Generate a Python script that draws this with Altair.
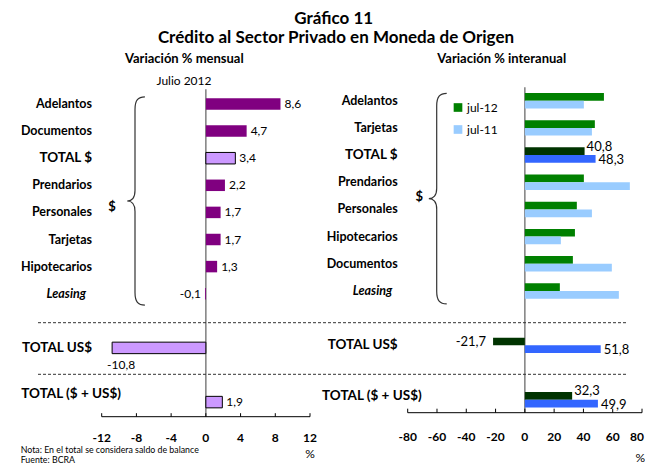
import altair as alt
import pandas as pd

# ---------------- data ----------------
cats_m = ["Adelantos", "Documentos", "TOTAL $", "Prendarios", "Personales",
          "Tarjetas", "Hipotecarios", "Leasing", "TOTAL US$", "TOTAL ($ + US$)"]
vals_m = [8.6, 4.7, 3.4, 2.2, 1.7, 1.7, 1.3, -0.1, -10.8, 1.9]

cats_i = ["Adelantos", "Tarjetas", "TOTAL $", "Prendarios", "Personales",
          "Hipotecarios", "Documentos", "Leasing", "TOTAL US$", "TOTAL ($ + US$)"]
jul12 = [54.0, 47.8, 40.8, 40.3, 35.5, 34.2, 32.8, 23.9, -21.7, 32.3]
jul11 = [40.3, 45.8, 48.3, 71.7, 45.8, 24.6, 59.4, 64.2, 51.8, 49.9]
series = ["jul-12", "jul-11"]
totals = ["TOTAL $", "TOTAL US$", "TOTAL ($ + US$)"]

ticks_m = [-12, -8, -4, 0, 4, 8, 12]
ticks_i = [-80, -60, -40, -20, 0, 20, 40, 60, 80]

title1 = "Gráfico 11"
title2 = "Crédito al Sector Privado en Moneda de Origen"
sub_m = "Variación % mensual"
sub_i = "Variación % interanual"
period = "Julio 2012"
note = "Nota: En el total se considera saldo de balance"
source = "Fuente: BCRA"

# ---------------- tables ----------------
FONT = "Lato"
gap1, gap2 = " ", "  "
order_m = cats_m[:8] + [gap1, cats_m[8], gap2, cats_m[9]]
order_i = cats_i[:8] + [gap1, cats_i[8], gap2, cats_i[9]]

df_m = pd.DataFrame({"cat": cats_m, "v": vals_m})
df_i = pd.DataFrame({"cat": cats_i * 2,
                     "serie": [series[0]] * len(cats_i) + [series[1]] * len(cats_i),
                     "v": jul12 + jul11})
tk_m = pd.DataFrame({"t": ticks_m})
tk_i = pd.DataFrame({"t": ticks_i})
ends_m = pd.DataFrame({"a": [ticks_m[0]], "b": [ticks_m[-1]]})
ends_i = pd.DataFrame({"a": [ticks_i[0]], "b": [ticks_i[-1]]})
zero = pd.DataFrame({"t": [0]})
one = pd.DataFrame({"k": [0]})

lab_expr = "replace(replace(format(datum.v, '.1f'), '.', ','), '\u2212', '-')"
tick_expr = "replace(format(datum.t, 'd'), '\u2212', '-')"

is_tot = alt.FieldOneOfPredicate(field="cat", oneOf=totals)

# ---------------- scales ----------------
def xm(f):
    return alt.X(f"{f}:Q", scale=alt.Scale(domain=[-12, 12], range=[93.7, 302.0], nice=False), axis=None)

def xi(f):
    return alt.X(f"{f}:Q", scale=alt.Scale(domain=[-80, 80], range=[399.7, 634.0], nice=False), axis=None)

ym = alt.Y("cat:N", scale=alt.Scale(domain=order_m, range=[82.45, 407.65], paddingInner=0, paddingOuter=0), axis=None)
yi = alt.Y("cat:N", scale=alt.Scale(domain=order_i, range=[79.1, 405.3], paddingInner=0, paddingOuter=0), axis=None)

# brace drawn as a custom symbol path
BRACE = ("M 0.095 -1 C 0.03 -1 0 -0.97 0 -0.88 L 0 -0.1 C 0 -0.03 -0.03 0 -0.075 0 "
         "C -0.03 0 0 0.03 0 0.1 L 0 0.88 C 0 0.97 0.03 1 0.095 1")

def brace(x, y, size):
    return alt.Chart(one).mark_point(shape=BRACE, size=size, filled=False, opacity=1,
                                     stroke="#333333", strokeWidth=1.2).encode(
        x=alt.value(x), y=alt.value(y))

def txt(text, x, y, size=12, weight="normal", style="normal", align="center"):
    return alt.Chart(one).mark_text(font=FONT, fontSize=size, fontWeight=weight, fontStyle=style,
                                    align=align, baseline="middle", color="black").encode(
        x=alt.value(x), y=alt.value(y), text=alt.value(text))

LBL = 12.5      # category label size
LBL_TOT = 13.5  # upper-case total labels

def cat_labels(base, y, cats, x_right, x_leas, x_tot, dy_tot):
    plain = [c for c in cats if c not in totals and c != "Leasing"]
    tots = [c for c in totals if c != "TOTAL ($ + US$)"]
    a = base.transform_filter(alt.FieldOneOfPredicate(field="cat", oneOf=plain)).mark_text(
        font=FONT, fontSize=LBL, fontWeight="bold", align="right", baseline="middle").encode(
        x=alt.value(x_right), y=y, text="cat:N")
    b = base.transform_filter(alt.FieldOneOfPredicate(field="cat", oneOf=tots)).mark_text(
        font=FONT, fontSize=LBL_TOT, fontWeight="bold", align="right", baseline="middle").encode(
        x=alt.value(x_right), y=y, text="cat:N")
    c = base.transform_filter(alt.datum.cat == "Leasing").mark_text(
        font=FONT, fontSize=LBL, fontWeight="bold", fontStyle="italic", align="right", baseline="middle").encode(
        x=alt.value(x_leas), y=y, text="cat:N")
    d = base.transform_filter(alt.datum.cat == "TOTAL ($ + US$)").mark_text(
        font=FONT, fontSize=LBL_TOT, fontWeight="bold", align="right", baseline="middle", dy=dy_tot).encode(
        x=alt.value(x_tot), y=y, text="cat:N")
    return [a, b, c, d]

# ---------------- left panel ----------------
base_m = alt.Chart(df_m)
bars_m = base_m.mark_bar(size=11.5, stroke="black").encode(
    x=xm("v"), x2=alt.datum(0), y=ym,
    color=alt.condition(is_tot, alt.value("#CC99FF"), alt.value("#800080")),
    strokeWidth=alt.condition(is_tot, alt.value(1), alt.value(0)))
zero_m = alt.Chart(zero).mark_rule(color="#7f7f7f", strokeWidth=1.5).encode(
    x=xm("t"), y=alt.value(81.3), y2=alt.value(408.7))
base_line_m = alt.Chart(ends_m).mark_rule(color="black", strokeWidth=1).encode(
    x=xm("a"), x2="b:Q", y=alt.value(408.7))
ticks_mark_m = alt.Chart(tk_m).mark_rule(color="black", strokeWidth=1).encode(
    x=xm("t"), y=alt.value(405.2), y2=alt.value(408.7))
tick_lab_m = alt.Chart(tk_m).transform_calculate(lab=tick_expr).mark_text(
    font=FONT, fontSize=12, fontWeight="bold", baseline="middle").encode(
    x=xm("t"), y=alt.value(429.8), text="lab:N")
val_pos_m = base_m.transform_filter("datum.v >= 0").transform_calculate(lab=lab_expr).mark_text(
    font=FONT, fontSize=12, align="left", dx=4, baseline="middle").encode(x=xm("v"), y=ym, text="lab:N")
val_neg_m = base_m.transform_filter("datum.v < 0 && datum.v > -5").transform_calculate(lab=lab_expr).mark_text(
    font=FONT, fontSize=12, align="right", dx=-4, baseline="middle").encode(x=xm("v"), y=ym, text="lab:N")
val_big_m = base_m.transform_filter("datum.v <= -5").transform_calculate(lab=lab_expr).mark_text(
    font=FONT, fontSize=12, align="left", dx=-5, dy=17, baseline="middle").encode(x=xm("v"), y=ym, text="lab:N")

left = alt.layer(zero_m, bars_m, base_line_m, ticks_mark_m, tick_lab_m,
                 val_pos_m, val_neg_m, val_big_m,
                 *cat_labels(base_m, ym, cats_m, 84, 78, 113, -8))

# ---------------- right panel ----------------
base_i = alt.Chart(df_i)
color_i = alt.Color("serie:N", scale=alt.Scale(domain=series, range=["#008000", "#99CCFF"]),
                    legend=alt.Legend(orient="none", legendX=444, legendY=93.5, title=None,
                                      symbolType="square", symbolSize=75, symbolStrokeWidth=0,
                                      labelFont=FONT, labelFontSize=12, labelOffset=3,
                                      rowPadding=10, padding=0, values=series))
bars12 = base_i.transform_filter(alt.datum.serie == series[0]).mark_bar(size=7.7, yOffset=-3.85).encode(
    x=xi("v"), x2=alt.datum(0), y=yi,
    color=alt.condition(is_tot, alt.value("#003300"), color_i))
bars11 = base_i.transform_filter(alt.datum.serie == series[1]).mark_bar(size=7.7, yOffset=3.85).encode(
    x=xi("v"), x2=alt.datum(0), y=yi,
    color=alt.condition(is_tot, alt.value("#3366FF"), color_i))
zero_i = alt.Chart(zero).mark_rule(color="#7f7f7f", strokeWidth=1.5).encode(
    x=xi("t"), y=alt.value(79.3), y2=alt.value(404.7))
base_line_i = alt.Chart(ends_i).mark_rule(color="black", strokeWidth=1).encode(
    x=xi("a"), x2="b:Q", y=alt.value(404.7))
ticks_mark_i = alt.Chart(tk_i).mark_rule(color="black", strokeWidth=1).encode(
    x=xi("t"), y=alt.value(400.7), y2=alt.value(404.7))
tick_lab_i = alt.Chart(tk_i).transform_filter(f"datum.t < {ticks_i[-1]}").transform_calculate(
    lab=tick_expr).mark_text(font=FONT, fontSize=12, fontWeight="bold", baseline="middle").encode(
    x=xi("t"), y=alt.value(429.3), text="lab:N")
tick_lab_i_last = alt.Chart(tk_i).transform_filter(f"datum.t == {ticks_i[-1]}").transform_calculate(
    lab=tick_expr).mark_text(font=FONT, fontSize=12, fontWeight="bold", baseline="middle",
                             align="right", dx=2).encode(
    x=xi("t"), y=alt.value(429.3), text="lab:N")
tot_i = base_i.transform_filter(is_tot).transform_calculate(lab=lab_expr)
val12_pos = tot_i.transform_filter(f"datum.serie == '{series[0]}' && datum.v >= 0").mark_text(
    font=FONT, fontSize=13, align="left", dx=2, dy=-8.5, baseline="middle").encode(x=xi("v"), y=yi, text="lab:N")
val12_neg = tot_i.transform_filter(f"datum.serie == '{series[0]}' && datum.v < 0").mark_text(
    font=FONT, fontSize=13, align="right", dx=-7, dy=-3, baseline="middle").encode(x=xi("v"), y=yi, text="lab:N")
val11 = tot_i.transform_filter(f"datum.serie == '{series[1]}'").mark_text(
    font=FONT, fontSize=13, align="left", dx=3, dy=5, baseline="middle").encode(x=xi("v"), y=yi, text="lab:N")
cat_base_i = base_i.transform_filter(alt.datum.serie == series[0])

right = alt.layer(zero_i, bars12, bars11, base_line_i, ticks_mark_i, tick_lab_i, tick_lab_i_last,
                  val12_pos, val12_neg, val11,
                  *cat_labels(cat_base_i, yi, cats_i, 389.7, 384.3, 413.7, -4))

# ---------------- decorations ----------------
dots1 = alt.Chart(one).mark_rule(color="#333333", strokeWidth=1, strokeDash=[3, 2]).encode(
    x=alt.value(30), x2=alt.value(620), y=alt.value(314.7))
dots2 = alt.Chart(one).mark_rule(color="#333333", strokeWidth=1, strokeDash=[3, 2]).encode(
    x=alt.value(30), x2=alt.value(620), y=alt.value(366.3))

decos = [
    dots1, dots2,
    brace(127, 193, 43300), brace(428.7, 190.7, 44300),
    txt("$", 104, 199, 13, "bold"), txt("$", 411.3, 189.3, 13, "bold"),
    txt(title1, 325.7, 10.8, 17, "bold"), txt(title2, 328, 30, 17, "bold"),
    txt(sub_m, 176.3, 51.3, 13, "bold"), txt(sub_i, 493.7, 51.3, 13, "bold"),
    txt(period, 176, 73, 12),
    txt("%", 302, 445.5, 12), txt("%", 637, 450, 12, align="right"),
    txt(note, 12.7, 442.0, 8.8, align="left"), txt(source, 12.7, 451.9, 8.8, align="left"),
]

chart = alt.layer(left, right, *decos).resolve_scale(
    x="independent", y="independent", color="independent"
).properties(
    width=637, height=456, padding=0, background="white",
    autosize=alt.AutoSizeParams(type="none")
).configure_view(stroke="transparent")

chart.save("out.html", embed_options={"renderer": "svg", "actions": False})
